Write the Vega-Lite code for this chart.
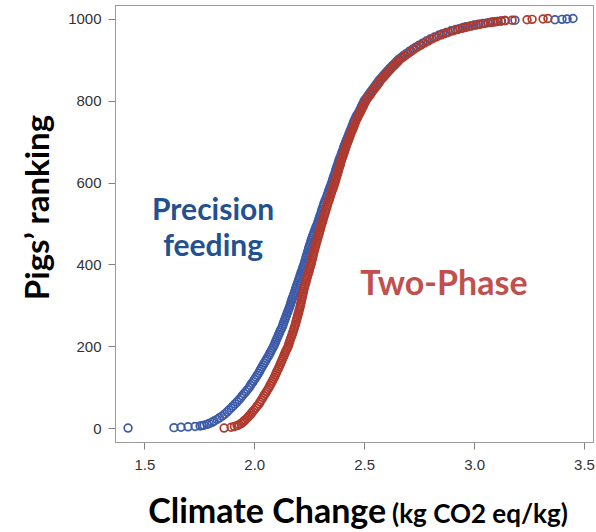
{
  "$schema": "https://vega.github.io/schema/vega-lite/v6.json",
  "width": 478,
  "height": 437,
  "autosize": "none",
  "padding": {"left": 115, "top": 5, "right": 3, "bottom": 90},
  "background": "white",
  "config": {
    "view": {"stroke": "#9a9a9a", "strokeWidth": 1},
    "axis": {
      "grid": false,
      "domainColor": "#9a9a9a",
      "tickColor": "#808080",
      "tickSize": 7,
      "labelFont": "Liberation Sans",
      "labelFontSize": 15,
      "labelColor": "#333333"
    }
  },
  "datasets": {
    "precision": [
      {"rank":1,"cc":1.426},{"rank":2,"cc":1.635},{"rank":3,"cc":1.667},{"rank":4,"cc":1.699},{"rank":5,"cc":1.731},{"rank":6,"cc":1.754},{"rank":7,"cc":1.763},{"rank":8,"cc":1.772},{"rank":10,"cc":1.785},{"rank":12,"cc":1.795},{"rank":15,"cc":1.808},{"rank":18,"cc":1.817},{"rank":22,"cc":1.831},{"rank":26,"cc":1.842},{"rank":30,"cc":1.854},{"rank":35,"cc":1.865},{"rank":40,"cc":1.876},{"rank":45,"cc":1.885},{"rank":50,"cc":1.895},{"rank":55,"cc":1.904},{"rank":60,"cc":1.913},{"rank":65,"cc":1.922},{"rank":70,"cc":1.931},{"rank":75,"cc":1.939},{"rank":80,"cc":1.946},{"rank":85,"cc":1.954},{"rank":90,"cc":1.962},{"rank":95,"cc":1.970},
      {"rank":100,"cc":1.977},{"rank":105,"cc":1.983},{"rank":110,"cc":1.989},{"rank":115,"cc":1.996},{"rank":120,"cc":2.002},{"rank":125,"cc":2.008},{"rank":130,"cc":2.014},{"rank":135,"cc":2.020},{"rank":140,"cc":2.025},{"rank":145,"cc":2.030},
      {"rank":150,"cc":2.035},{"rank":155,"cc":2.041},{"rank":160,"cc":2.046},{"rank":165,"cc":2.052},{"rank":170,"cc":2.057},{"rank":175,"cc":2.063},{"rank":180,"cc":2.068},{"rank":185,"cc":2.073},{"rank":190,"cc":2.078},{"rank":195,"cc":2.083},
      {"rank":200,"cc":2.088},{"rank":205,"cc":2.092},{"rank":210,"cc":2.096},{"rank":215,"cc":2.100},{"rank":220,"cc":2.104},{"rank":225,"cc":2.108},{"rank":230,"cc":2.112},{"rank":235,"cc":2.116},{"rank":240,"cc":2.120},{"rank":245,"cc":2.125},
      {"rank":250,"cc":2.129},{"rank":255,"cc":2.132},{"rank":260,"cc":2.135},{"rank":265,"cc":2.139},{"rank":270,"cc":2.142},{"rank":275,"cc":2.146},{"rank":280,"cc":2.149},{"rank":285,"cc":2.153},{"rank":290,"cc":2.156},{"rank":295,"cc":2.160},
      {"rank":300,"cc":2.163},{"rank":305,"cc":2.166},{"rank":310,"cc":2.169},{"rank":315,"cc":2.172},{"rank":320,"cc":2.175},{"rank":325,"cc":2.179},{"rank":330,"cc":2.182},{"rank":335,"cc":2.185},{"rank":340,"cc":2.188},{"rank":345,"cc":2.191},
      {"rank":350,"cc":2.194},{"rank":355,"cc":2.198},{"rank":360,"cc":2.201},{"rank":365,"cc":2.204},{"rank":370,"cc":2.207},{"rank":375,"cc":2.210},{"rank":380,"cc":2.213},{"rank":385,"cc":2.217},{"rank":390,"cc":2.220},{"rank":395,"cc":2.223},
      {"rank":400,"cc":2.226},{"rank":405,"cc":2.229},{"rank":410,"cc":2.232},{"rank":415,"cc":2.235},{"rank":420,"cc":2.237},{"rank":425,"cc":2.240},{"rank":430,"cc":2.243},{"rank":435,"cc":2.246},{"rank":440,"cc":2.248},{"rank":445,"cc":2.251},
      {"rank":450,"cc":2.254},{"rank":455,"cc":2.257},{"rank":460,"cc":2.260},{"rank":465,"cc":2.263},{"rank":470,"cc":2.266},{"rank":475,"cc":2.270},{"rank":480,"cc":2.273},{"rank":485,"cc":2.277},{"rank":490,"cc":2.280},{"rank":495,"cc":2.284},
      {"rank":500,"cc":2.288},{"rank":505,"cc":2.291},{"rank":510,"cc":2.294},{"rank":515,"cc":2.297},{"rank":520,"cc":2.300},{"rank":525,"cc":2.304},{"rank":530,"cc":2.306},{"rank":535,"cc":2.309},{"rank":540,"cc":2.312},{"rank":545,"cc":2.316},
      {"rank":550,"cc":2.318},{"rank":555,"cc":2.322},{"rank":560,"cc":2.326},{"rank":565,"cc":2.330},{"rank":570,"cc":2.333},{"rank":575,"cc":2.336},{"rank":580,"cc":2.339},{"rank":585,"cc":2.343},{"rank":590,"cc":2.346},{"rank":595,"cc":2.350},
      {"rank":600,"cc":2.353},{"rank":605,"cc":2.356},{"rank":610,"cc":2.359},{"rank":615,"cc":2.362},{"rank":620,"cc":2.365},{"rank":625,"cc":2.369},{"rank":630,"cc":2.371},{"rank":635,"cc":2.374},{"rank":640,"cc":2.377},{"rank":645,"cc":2.381},
      {"rank":650,"cc":2.383},{"rank":655,"cc":2.386},{"rank":660,"cc":2.390},{"rank":665,"cc":2.394},{"rank":670,"cc":2.397},{"rank":675,"cc":2.400},{"rank":680,"cc":2.404},{"rank":685,"cc":2.407},{"rank":690,"cc":2.410},{"rank":695,"cc":2.414},
      {"rank":700,"cc":2.417},{"rank":705,"cc":2.421},{"rank":710,"cc":2.425},{"rank":715,"cc":2.429},{"rank":720,"cc":2.432},{"rank":725,"cc":2.436},{"rank":730,"cc":2.440},{"rank":735,"cc":2.444},{"rank":740,"cc":2.447},{"rank":745,"cc":2.451},
      {"rank":750,"cc":2.454},{"rank":755,"cc":2.459},{"rank":760,"cc":2.463},{"rank":765,"cc":2.468},{"rank":770,"cc":2.474},{"rank":775,"cc":2.479},{"rank":780,"cc":2.483},{"rank":785,"cc":2.488},{"rank":790,"cc":2.492},{"rank":795,"cc":2.497},
      {"rank":800,"cc":2.501},{"rank":805,"cc":2.508},{"rank":810,"cc":2.515},{"rank":815,"cc":2.522},{"rank":820,"cc":2.528},{"rank":825,"cc":2.535},{"rank":830,"cc":2.542},{"rank":835,"cc":2.549},{"rank":840,"cc":2.556},{"rank":845,"cc":2.563},
      {"rank":850,"cc":2.569},{"rank":855,"cc":2.578},{"rank":860,"cc":2.586},{"rank":865,"cc":2.594},{"rank":870,"cc":2.602},{"rank":875,"cc":2.611},{"rank":880,"cc":2.619},{"rank":885,"cc":2.629},{"rank":890,"cc":2.638},{"rank":895,"cc":2.647},
      {"rank":900,"cc":2.656},{"rank":905,"cc":2.668},{"rank":910,"cc":2.680},{"rank":915,"cc":2.693},{"rank":920,"cc":2.706},{"rank":925,"cc":2.720},{"rank":930,"cc":2.734},{"rank":935,"cc":2.750},{"rank":940,"cc":2.766},{"rank":945,"cc":2.783},
      {"rank":950,"cc":2.800},{"rank":955,"cc":2.820},{"rank":960,"cc":2.841},{"rank":963,"cc":2.857},{"rank":966,"cc":2.873},{"rank":970,"cc":2.895},{"rank":973,"cc":2.916},{"rank":976,"cc":2.936},{"rank":978,"cc":2.950},{"rank":980,"cc":2.963},{"rank":982,"cc":2.982},{"rank":984,"cc":3.000},{"rank":986,"cc":3.020},{"rank":988,"cc":3.041},
      {"rank":990,"cc":3.064},{"rank":991,"cc":3.076},{"rank":992,"cc":3.088},{"rank":993,"cc":3.105},{"rank":994,"cc":3.123},{"rank":995,"cc":3.141},{"rank":996,"cc":3.186},{"rank":997,"cc":3.368},{"rank":998,"cc":3.400},{"rank":999,"cc":3.423},{"rank":1000,"cc":3.450}
    ],
    "twophase": [
      {"rank":1,"cc":1.863},{"rank":3,"cc":1.895},{"rank":5,"cc":1.910},{"rank":7,"cc":1.922},{"rank":9,"cc":1.931},{"rank":12,"cc":1.940},{"rank":15,"cc":1.947},{"rank":18,"cc":1.954},{"rank":21,"cc":1.959},{"rank":25,"cc":1.967},{"rank":29,"cc":1.974},{"rank":33,"cc":1.981},{"rank":37,"cc":1.987},{"rank":41,"cc":1.993},{"rank":45,"cc":1.999},{"rank":50,"cc":2.007},{"rank":55,"cc":2.014},{"rank":60,"cc":2.022},{"rank":65,"cc":2.027},{"rank":70,"cc":2.033},{"rank":75,"cc":2.039},{"rank":80,"cc":2.044},{"rank":85,"cc":2.050},{"rank":90,"cc":2.056},{"rank":95,"cc":2.062},
      {"rank":100,"cc":2.067},{"rank":105,"cc":2.072},{"rank":110,"cc":2.077},{"rank":115,"cc":2.082},{"rank":120,"cc":2.087},{"rank":125,"cc":2.092},{"rank":130,"cc":2.096},{"rank":135,"cc":2.100},{"rank":140,"cc":2.104},{"rank":145,"cc":2.109},
      {"rank":150,"cc":2.113},{"rank":155,"cc":2.117},{"rank":160,"cc":2.121},{"rank":165,"cc":2.125},{"rank":170,"cc":2.129},{"rank":175,"cc":2.133},{"rank":180,"cc":2.137},{"rank":185,"cc":2.141},{"rank":190,"cc":2.145},{"rank":195,"cc":2.150},
      {"rank":200,"cc":2.154},{"rank":205,"cc":2.157},{"rank":210,"cc":2.160},{"rank":215,"cc":2.163},{"rank":220,"cc":2.166},{"rank":225,"cc":2.170},{"rank":230,"cc":2.173},{"rank":235,"cc":2.176},{"rank":240,"cc":2.179},{"rank":245,"cc":2.182},
      {"rank":250,"cc":2.185},{"rank":255,"cc":2.188},{"rank":260,"cc":2.190},{"rank":265,"cc":2.193},{"rank":270,"cc":2.195},{"rank":275,"cc":2.198},{"rank":280,"cc":2.200},{"rank":285,"cc":2.203},{"rank":290,"cc":2.205},{"rank":295,"cc":2.208},
      {"rank":300,"cc":2.210},{"rank":305,"cc":2.212},{"rank":310,"cc":2.214},{"rank":315,"cc":2.216},{"rank":320,"cc":2.218},{"rank":325,"cc":2.220},{"rank":330,"cc":2.222},{"rank":335,"cc":2.224},{"rank":340,"cc":2.226},{"rank":345,"cc":2.229},
      {"rank":350,"cc":2.231},{"rank":355,"cc":2.234},{"rank":360,"cc":2.236},{"rank":365,"cc":2.239},{"rank":370,"cc":2.241},{"rank":375,"cc":2.244},{"rank":380,"cc":2.247},{"rank":385,"cc":2.250},{"rank":390,"cc":2.252},{"rank":395,"cc":2.255},
      {"rank":400,"cc":2.258},{"rank":405,"cc":2.260},{"rank":410,"cc":2.262},{"rank":415,"cc":2.265},{"rank":420,"cc":2.267},{"rank":425,"cc":2.269},{"rank":430,"cc":2.271},{"rank":435,"cc":2.274},{"rank":440,"cc":2.276},{"rank":445,"cc":2.279},
      {"rank":450,"cc":2.281},{"rank":455,"cc":2.284},{"rank":460,"cc":2.286},{"rank":465,"cc":2.289},{"rank":470,"cc":2.292},{"rank":475,"cc":2.295},{"rank":480,"cc":2.297},{"rank":485,"cc":2.300},{"rank":490,"cc":2.302},{"rank":495,"cc":2.305},
      {"rank":500,"cc":2.308},{"rank":505,"cc":2.311},{"rank":510,"cc":2.313},{"rank":515,"cc":2.316},{"rank":520,"cc":2.319},{"rank":525,"cc":2.322},{"rank":530,"cc":2.324},{"rank":535,"cc":2.327},{"rank":540,"cc":2.330},{"rank":545,"cc":2.333},
      {"rank":550,"cc":2.335},{"rank":555,"cc":2.339},{"rank":560,"cc":2.342},{"rank":565,"cc":2.345},{"rank":570,"cc":2.348},{"rank":575,"cc":2.351},{"rank":580,"cc":2.354},{"rank":585,"cc":2.358},{"rank":590,"cc":2.361},{"rank":595,"cc":2.364},
      {"rank":600,"cc":2.367},{"rank":605,"cc":2.370},{"rank":610,"cc":2.372},{"rank":615,"cc":2.375},{"rank":620,"cc":2.378},{"rank":625,"cc":2.381},{"rank":630,"cc":2.383},{"rank":635,"cc":2.386},{"rank":640,"cc":2.389},{"rank":645,"cc":2.392},
      {"rank":650,"cc":2.394},{"rank":655,"cc":2.397},{"rank":660,"cc":2.400},{"rank":665,"cc":2.404},{"rank":670,"cc":2.407},{"rank":675,"cc":2.410},{"rank":680,"cc":2.413},{"rank":685,"cc":2.416},{"rank":690,"cc":2.419},{"rank":695,"cc":2.423},
      {"rank":700,"cc":2.426},{"rank":705,"cc":2.430},{"rank":710,"cc":2.433},{"rank":715,"cc":2.437},{"rank":720,"cc":2.440},{"rank":725,"cc":2.444},{"rank":730,"cc":2.448},{"rank":735,"cc":2.452},{"rank":740,"cc":2.455},{"rank":745,"cc":2.459},
      {"rank":750,"cc":2.462},{"rank":755,"cc":2.467},{"rank":760,"cc":2.471},{"rank":765,"cc":2.476},{"rank":770,"cc":2.481},{"rank":775,"cc":2.486},{"rank":780,"cc":2.490},{"rank":785,"cc":2.495},{"rank":790,"cc":2.499},{"rank":795,"cc":2.504},
      {"rank":800,"cc":2.508},{"rank":805,"cc":2.515},{"rank":810,"cc":2.522},{"rank":815,"cc":2.529},{"rank":820,"cc":2.535},{"rank":825,"cc":2.542},{"rank":830,"cc":2.549},{"rank":835,"cc":2.556},{"rank":840,"cc":2.563},{"rank":845,"cc":2.570},
      {"rank":850,"cc":2.576},{"rank":855,"cc":2.585},{"rank":860,"cc":2.593},{"rank":865,"cc":2.601},{"rank":870,"cc":2.609},{"rank":875,"cc":2.618},{"rank":880,"cc":2.626},{"rank":885,"cc":2.636},{"rank":890,"cc":2.645},{"rank":895,"cc":2.654},
      {"rank":900,"cc":2.663},{"rank":905,"cc":2.676},{"rank":910,"cc":2.688},{"rank":915,"cc":2.701},{"rank":920,"cc":2.714},{"rank":925,"cc":2.728},{"rank":930,"cc":2.742},{"rank":935,"cc":2.758},{"rank":940,"cc":2.774},{"rank":945,"cc":2.791},
      {"rank":950,"cc":2.809},{"rank":955,"cc":2.829},{"rank":960,"cc":2.850},{"rank":963,"cc":2.866},{"rank":966,"cc":2.882},{"rank":970,"cc":2.904},{"rank":973,"cc":2.925},{"rank":976,"cc":2.945},{"rank":978,"cc":2.959},{"rank":980,"cc":2.972},{"rank":982,"cc":2.990},{"rank":984,"cc":3.009},{"rank":986,"cc":3.029},{"rank":988,"cc":3.050},
      {"rank":990,"cc":3.073},{"rank":991,"cc":3.085},{"rank":992,"cc":3.097},{"rank":993,"cc":3.109},{"rank":994,"cc":3.125},{"rank":995,"cc":3.141},{"rank":996,"cc":3.173},{"rank":997,"cc":3.241},{"rank":998,"cc":3.264},{"rank":999,"cc":3.314},{"rank":1000,"cc":3.336}
    ]
  },
  "layer": [
    {
      "data": {"name": "precision"},
      "mark": {"type": "point", "shape": "circle", "filled": false, "size": 60, "strokeWidth": 1.7, "color": "#3d5ba8", "opacity": 1, "clip": true},
      "encoding": {
        "x": {
          "field": "cc", "type": "quantitative",
          "scale": {"domain": [1.3667, 3.541], "nice": false, "zero": false},
          "axis": {"values": [1.5, 2, 2.5, 3, 3.5], "format": ".1f", "title": null, "labelPadding": 8}
        },
        "y": {
          "field": "rank", "type": "quantitative",
          "scale": {"domain": [-33, 1033], "nice": false, "zero": false},
          "axis": {
            "values": [0, 200, 400, 600, 800, 1000], "format": "d", "labelPadding": 7,
            "title": "Pigs’ ranking", "titleFont": "Lato", "titleFontSize": 33, "titleFontWeight": "bold",
            "titleColor": "#000000", "titlePadding": 12, "titleY": 202
          }
        }
      }
    },
    {
      "data": {"name": "twophase"},
      "mark": {"type": "point", "shape": "circle", "filled": false, "size": 60, "strokeWidth": 1.7, "color": "#b03a2e", "opacity": 1, "clip": true},
      "encoding": {
        "x": {"field": "cc", "type": "quantitative"},
        "y": {"field": "rank", "type": "quantitative"}
      }
    },
    {
      "data": {"values": [{"cc": 1.813, "rank": 509, "label": ["Precision", "feeding"]}]},
      "mark": {"type": "text", "font": "Lato", "fontWeight": "bold", "fontSize": 30, "lineHeight": 36, "color": "#23508f", "align": "center", "baseline": "alphabetic"},
      "encoding": {
        "x": {"field": "cc", "type": "quantitative"},
        "y": {"field": "rank", "type": "quantitative"},
        "text": {"field": "label"}
      }
    },
    {
      "data": {"values": [{"cc": 2.863, "rank": 325.6, "label": "Two-Phase"}]},
      "mark": {"type": "text", "font": "Lato", "fontWeight": "bold", "fontSize": 34, "color": "#c0504d", "align": "center", "baseline": "alphabetic"},
      "encoding": {
        "x": {"field": "cc", "type": "quantitative"},
        "y": {"field": "rank", "type": "quantitative"},
        "text": {"field": "label"}
      }
    },
    {
      "data": {"values": [{"cc": 2.600, "rank": -230.5, "label": "Climate Change"}]},
      "mark": {"type": "text", "font": "Lato", "fontWeight": "bold", "fontSize": 34, "color": "#000000", "align": "right", "baseline": "alphabetic"},
      "encoding": {
        "x": {"field": "cc", "type": "quantitative"},
        "y": {"field": "rank", "type": "quantitative"},
        "text": {"field": "label"}
      }
    },
    {
      "data": {"values": [{"cc": 2.627, "rank": -230.5, "label": "(kg CO2 eq/kg)"}]},
      "mark": {"type": "text", "font": "Lato", "fontWeight": "bold", "fontSize": 26, "color": "#000000", "align": "left", "baseline": "alphabetic"},
      "encoding": {
        "x": {"field": "cc", "type": "quantitative"},
        "y": {"field": "rank", "type": "quantitative"},
        "text": {"field": "label"}
      }
    }
  ]
}
